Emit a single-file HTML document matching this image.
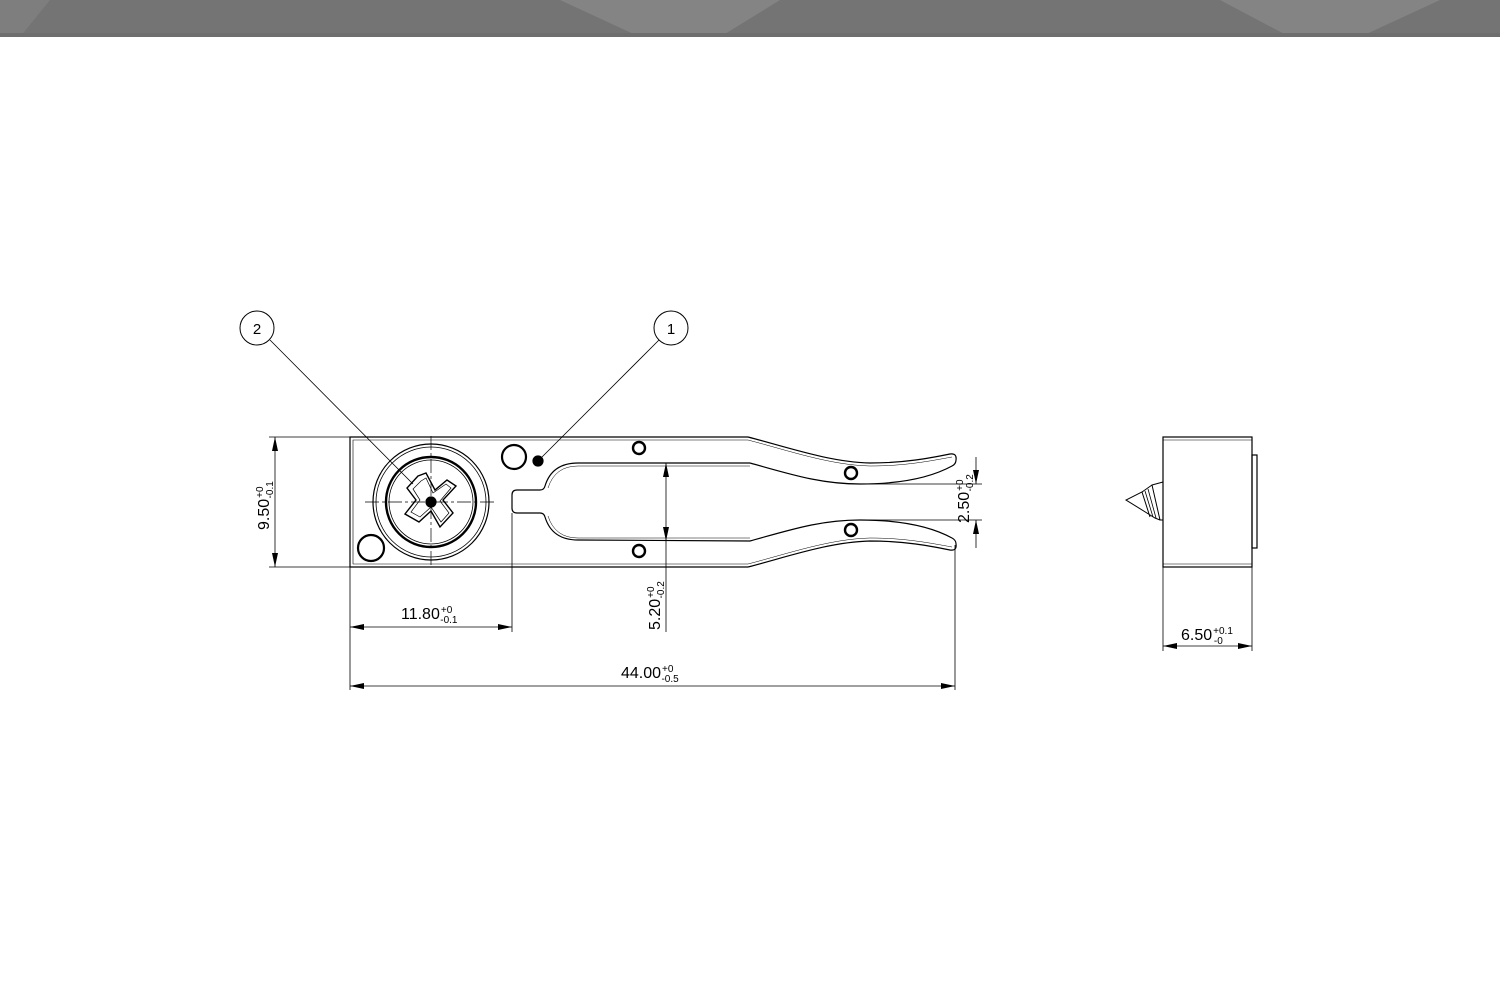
<!DOCTYPE html>
<html><head><meta charset="utf-8"><style>
html,body{margin:0;padding:0;background:#fff;width:1500px;height:1000px;overflow:hidden}
svg{display:block}
text{font-family:"Liberation Sans",Arial,sans-serif;fill:#000}
</style></head><body>
<svg width="1500" height="1000" viewBox="0 0 1500 1000" xmlns="http://www.w3.org/2000/svg">
<defs>
<marker id="ar" viewBox="0 0 14 6" refX="14" refY="3" markerWidth="14" markerHeight="6" orient="auto-start-reverse" markerUnits="userSpaceOnUse"><path d="M0,0 L14,3 L0,6 z" fill="#000"/></marker>
</defs>
<rect x="0" y="0" width="1500" height="37" fill="#747474"/>
<polygon points="0,0 50,0 20,37 0,37" fill="#7e7e7e"/>
<polygon points="560,0 780,0 720,37 640,37" fill="#848484"/>
<polygon points="1220,0 1440,0 1360,37 1290,37" fill="#848484"/>
<rect x="0" y="33" width="1500" height="4" fill="#6e6e6e"/>

<g fill="none" stroke="#000" stroke-width="1.2">
<path d="M748 437 L350 437 L350 567 L748 567"/>
<path d="M748 440 L353 440 L353 564 L748 564" stroke-width="0.6"/>
<path d="M748 437 C790 448 830 462 870 463 C905 463 930 458 950 454 Q957 453 956 460 Q956 464 952 466 C930 478 900 484 860 484 C820 484 790 474 750 463"/>
<path d="M748 440 C790 451 830 465 870 466 C905 466 930 461 952 457" stroke-width="0.5"/>
<path d="M748 567 C790 556 830 542 870 541 C905 541 930 546 950 550 Q957 551 956 544 Q956 540 952 538 C930 526 900 520 860 520 C820 520 790 530 750 541"/>
<path d="M748 564 C790 553 830 539 870 538 C905 538 930 543 952 547" stroke-width="0.5"/>
<path d="M750 463 L578 463 Q552 463 545 486 Q544 490 540 490 L517 490 Q512 490 512 495 L512 508 Q512 513 517 513 L540 513 Q544 513 545 517 Q552 540 578 540 L750 541"/>
<path d="M750 466 L578 466 Q555 466 548 488" stroke-width="0.5"/>
<path d="M750 538 L578 538 Q555 538 548 516" stroke-width="0.5"/>
<circle cx="431" cy="502" r="58"/>
<circle cx="431" cy="502" r="55" stroke-width="0.8"/>
<circle cx="431" cy="502" r="45" stroke-width="2.4"/>
<circle cx="431" cy="502" r="42" stroke-width="0.8"/>
<path d="M418 476 L426 473 L435 490 L447 480 L456 486 L443 500 L453 513 L440 527 L431 511 L419 522 L405 514 L416 500 L407 488 Z" stroke-width="1.4"/>
<path d="M421 481 L426 478 L433 493 L446 484 L451 488 L440 501 L449 513 L441 522 L431 507 L420 517 L411 512 L420 500 L413 489 Z" stroke-width="0.7"/>
<circle cx="431" cy="502" r="5" fill="#000"/>
<path d="M365 502 L497 502 M431 436 L431 567" stroke-width="0.7" stroke-dasharray="14 3 3 3"/>
<circle cx="514" cy="457" r="12" stroke-width="2.2"/>
<circle cx="371" cy="548" r="13" stroke-width="2.2"/>
<circle cx="538" cy="461" r="5" fill="#000"/>
<circle cx="639" cy="448" r="6" stroke-width="2.4"/>
<circle cx="639" cy="551" r="6" stroke-width="2.4"/>
<circle cx="851" cy="473" r="6" stroke-width="2.4"/>
<circle cx="851" cy="530" r="6" stroke-width="2.4"/>

<circle cx="257" cy="328" r="17" stroke-width="1"/>
<circle cx="671" cy="328" r="17" stroke-width="1"/>
<path d="M270 340 L413 484 M659 340 L540 459" stroke-width="0.8"/>

<g stroke-width="0.8">
<path d="M269 437 L350 437 M269 567 L350 567"/>
<path d="M275 437 L275 567" marker-start="url(#ar)" marker-end="url(#ar)"/>
<path d="M350 567 L350 690 M512 513 L512 632 M955 545 L955 690"/>
<path d="M350 627 L512 627" marker-start="url(#ar)" marker-end="url(#ar)"/>
<path d="M350 686 L955 686" marker-start="url(#ar)" marker-end="url(#ar)"/>
<path d="M666 463 L666 541" marker-start="url(#ar)" marker-end="url(#ar)"/>
<path d="M666 541 L666 632"/>
<path d="M860 484 L982 484 M860 520 L982 520"/>
<path d="M976 457 L976 484" marker-end="url(#ar)"/>
<path d="M976 548 L976 520" marker-end="url(#ar)"/>
<path d="M1163 567 L1163 651 M1252 567 L1252 651"/>
<path d="M1163 646 L1252 646" marker-start="url(#ar)" marker-end="url(#ar)"/>
</g>

<rect x="1163" y="437" width="89" height="130"/>
<path d="M1163 440 L1252 440 M1163 564 L1252 564" stroke-width="0.6"/>
<rect x="1252" y="455" width="5" height="93"/>
<path d="M1163 482 L1152 485 L1160 520 L1163 520 M1152 485 L1142 492 L1126 500 L1155 518 L1160 520 M1142 492 L1150 517" stroke-width="1"/>
<path d="M1145 491 L1153 517 M1148 489 L1156 518" stroke-width="0.8"/>
</g>

<text x="257" y="334" font-size="15" text-anchor="middle">2</text>
<text x="671" y="334" font-size="15" text-anchor="middle">1</text>
<text x="401" y="619" font-size="16">11.80<tspan font-size="10" dx="1" dy="-6">+0</tspan><tspan font-size="10" dx="-12" dy="10">-0.1</tspan></text>
<text x="621" y="678" font-size="16">44.00<tspan font-size="10" dx="1" dy="-6">+0</tspan><tspan font-size="10" dx="-12" dy="10">-0.5</tspan></text>
<text x="1181" y="640" font-size="16">6.50<tspan font-size="10" dx="1" dy="-6">+0.1</tspan><tspan font-size="10" dx="-19" dy="10">-0</tspan></text>
<text transform="translate(269,530) rotate(-90)" font-size="16">9.50<tspan font-size="10" dx="1" dy="-6">+0</tspan><tspan font-size="10" dx="-12" dy="10">-0.1</tspan></text>
<text transform="translate(660,630) rotate(-90)" font-size="16">5.20<tspan font-size="10" dx="1" dy="-6">+0</tspan><tspan font-size="10" dx="-12" dy="10">-0.2</tspan></text>
<text transform="translate(969,523) rotate(-90)" font-size="16">2.50<tspan font-size="10" dx="1" dy="-6">+0</tspan><tspan font-size="10" dx="-12" dy="10">-0.2</tspan></text>
</svg>
</body></html>
